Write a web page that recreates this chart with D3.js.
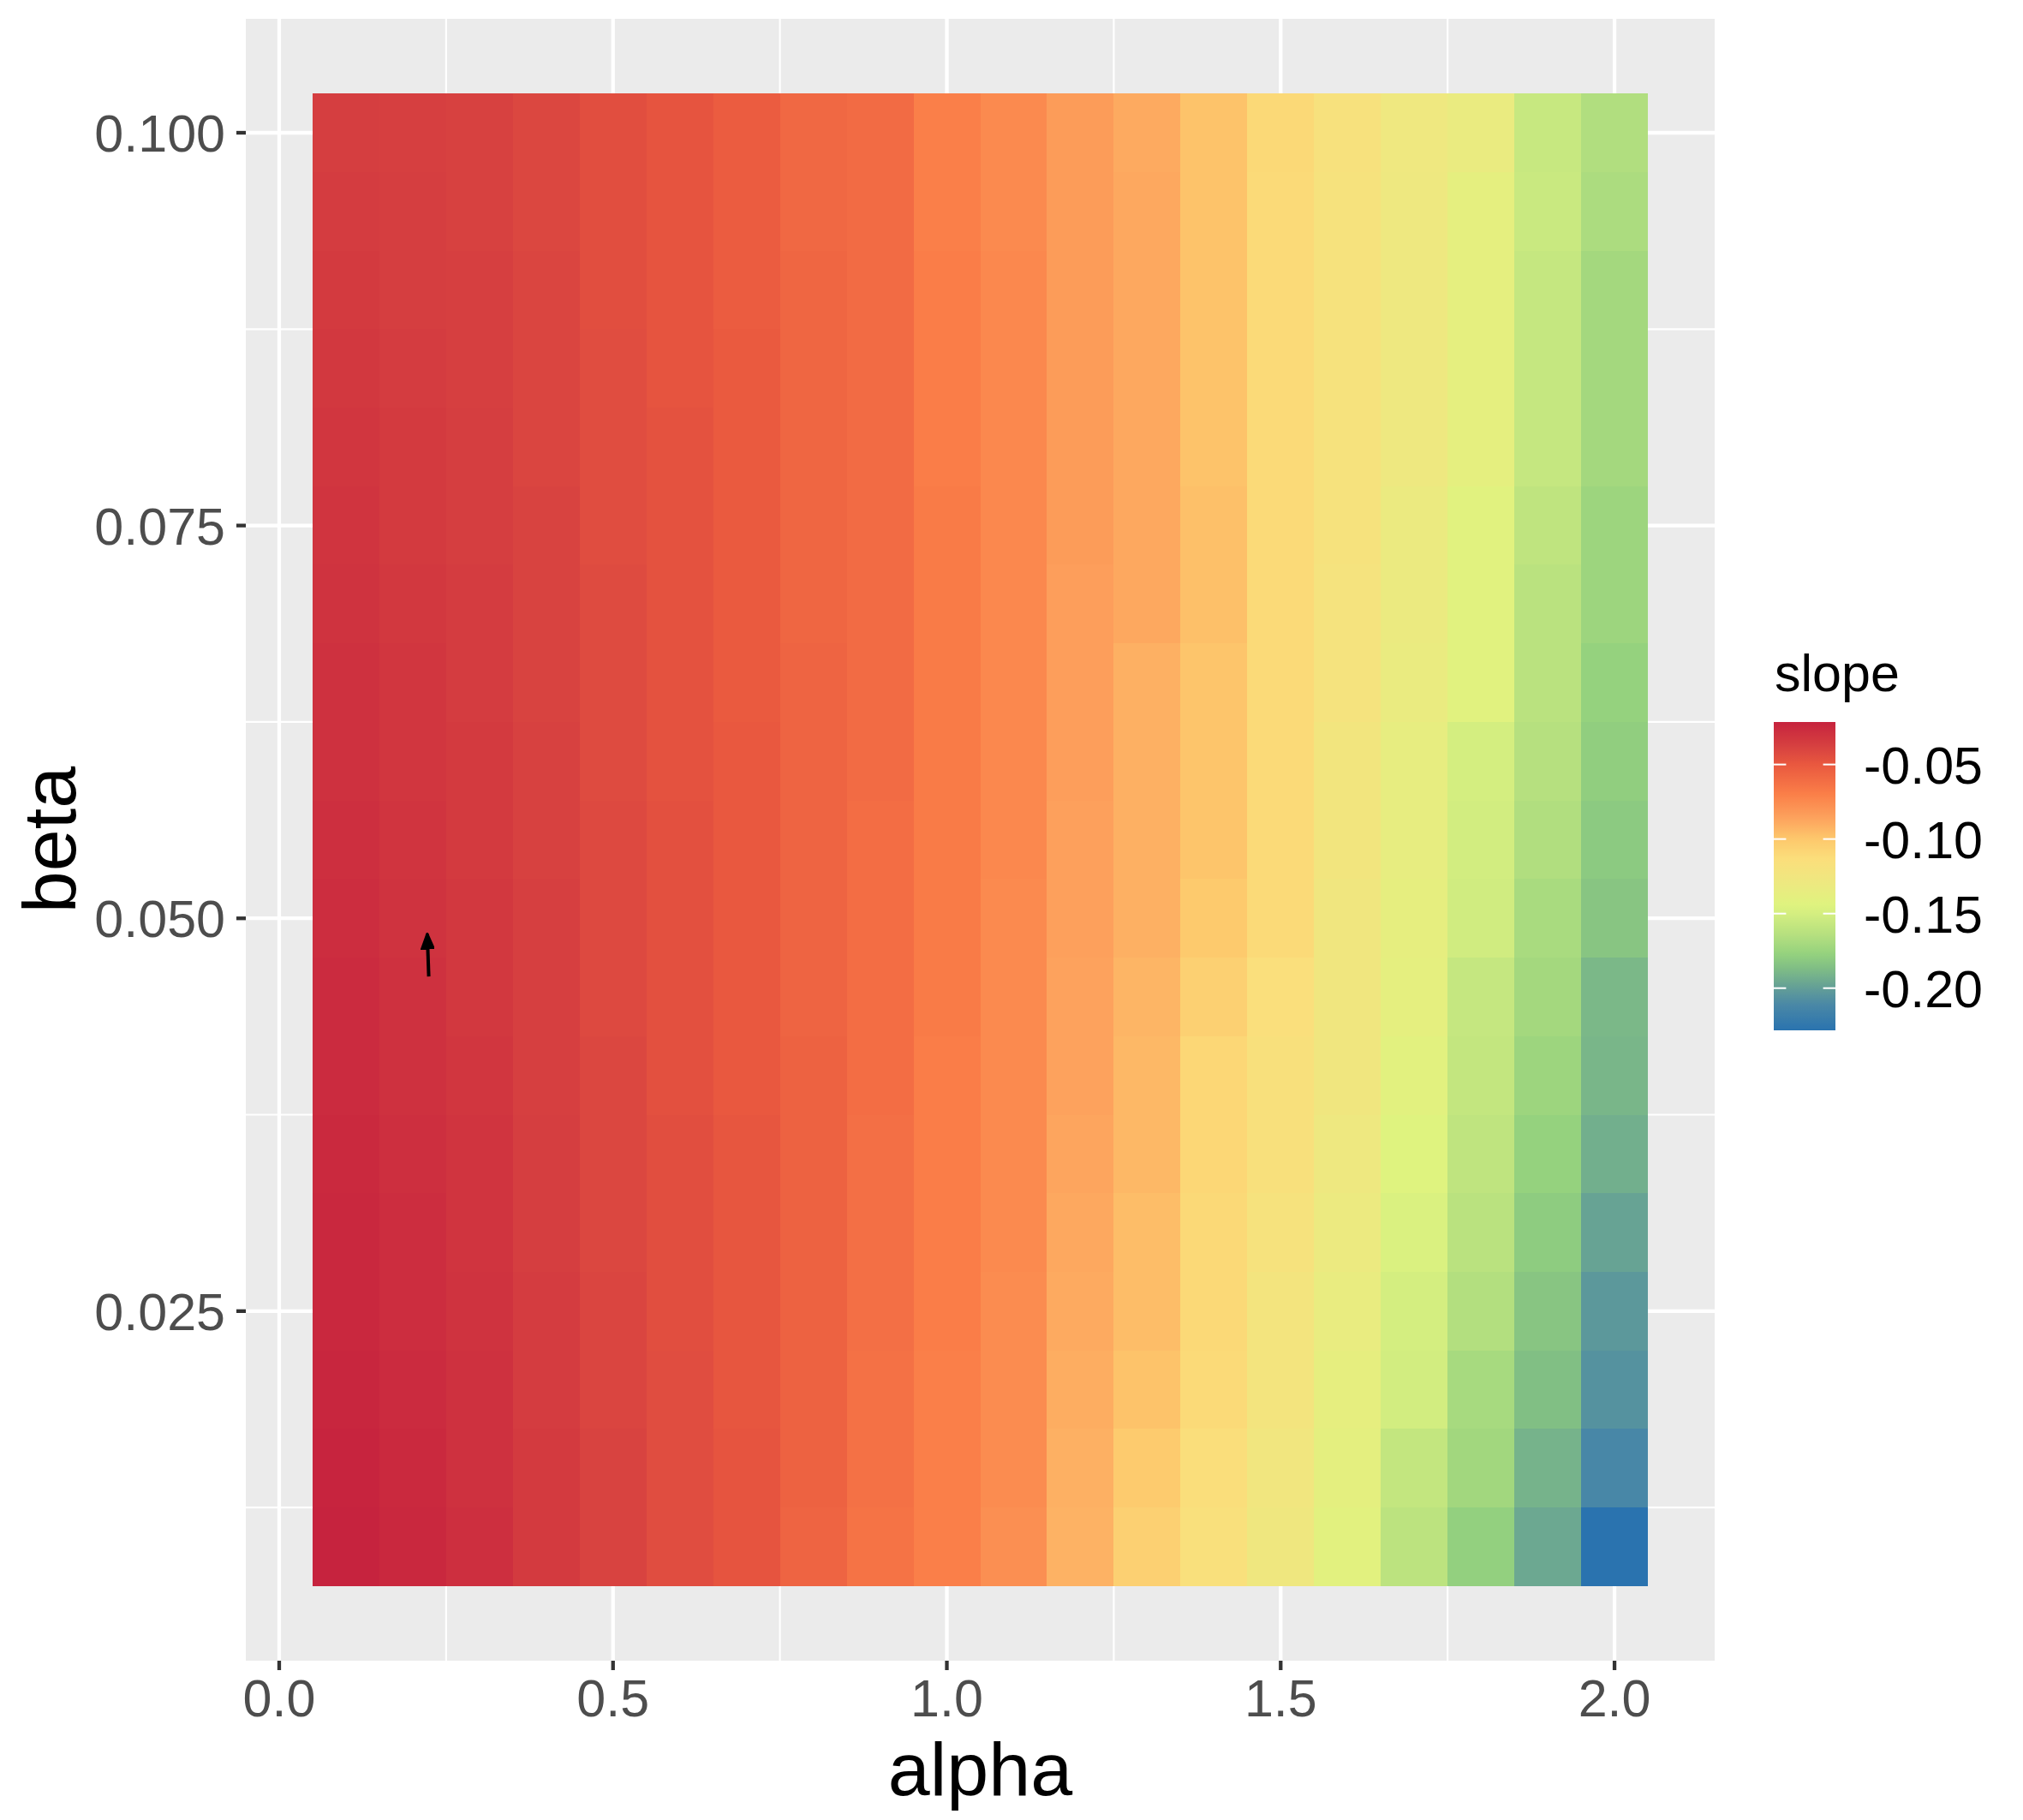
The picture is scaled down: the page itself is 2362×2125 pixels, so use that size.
<!DOCTYPE html>
<html>
<head>
<meta charset="utf-8">
<script src="https://cdn.jsdelivr.net/npm/d3@7"></script>
<style>
  html, body { margin: 0; padding: 0; background: #ffffff; }
  svg { display: block; font-family: "Liberation Sans", Arial, Helvetica, sans-serif; }
</style>
</head>
<body>
<svg id="chart" width="2362" height="2125"></svg>
<script>
// ---------------- data ----------------
const alphaValues = [0.1, 0.2, 0.3, 0.4, 0.5, 0.6, 0.7, 0.8, 0.9, 1.0,
                     1.1, 1.2, 1.3, 1.4, 1.5, 1.6, 1.7, 1.8, 1.9, 2.0];
const betaValues = [0.010, 0.015, 0.020, 0.025, 0.030, 0.035, 0.040, 0.045, 0.050, 0.055,
                    0.060, 0.065, 0.070, 0.075, 0.080, 0.085, 0.090, 0.095, 0.100];
// slope[i][j]: beta = betaValues[i], alpha = alphaValues[j]
const slope = [
  [-0.0215,-0.024,-0.028,-0.034,-0.039,-0.044,-0.048,-0.056,-0.064,-0.070,-0.077,-0.092,-0.105,-0.116,-0.127,-0.141,-0.161,-0.178,-0.196,-0.2283],
  [-0.022,-0.025,-0.029,-0.034,-0.039,-0.044,-0.048,-0.055,-0.063,-0.070,-0.076,-0.091,-0.102,-0.114,-0.125,-0.139,-0.158,-0.172,-0.191,-0.212],
  [-0.023,-0.026,-0.029,-0.035,-0.040,-0.044,-0.049,-0.055,-0.063,-0.070,-0.076,-0.090,-0.098,-0.111,-0.123,-0.137,-0.151,-0.170,-0.186,-0.206],
  [-0.024,-0.027,-0.030,-0.035,-0.040,-0.045,-0.049,-0.055,-0.062,-0.069,-0.076,-0.089,-0.096,-0.110,-0.123,-0.134,-0.150,-0.165,-0.183,-0.203],
  [-0.024,-0.027,-0.031,-0.036,-0.041,-0.045,-0.049,-0.055,-0.062,-0.069,-0.075,-0.088,-0.096,-0.110,-0.119,-0.131,-0.147,-0.162,-0.180,-0.198],
  [-0.025,-0.028,-0.031,-0.036,-0.041,-0.045,-0.049,-0.055,-0.062,-0.069,-0.075,-0.087,-0.094,-0.109,-0.117,-0.129,-0.144,-0.160,-0.177,-0.193],
  [-0.026,-0.029,-0.032,-0.037,-0.041,-0.046,-0.050,-0.055,-0.061,-0.069,-0.075,-0.086,-0.094,-0.109,-0.117,-0.126,-0.141,-0.158,-0.174,-0.190],
  [-0.026,-0.029,-0.033,-0.037,-0.042,-0.046,-0.050,-0.056,-0.061,-0.068,-0.075,-0.086,-0.093,-0.105,-0.115,-0.126,-0.138,-0.157,-0.171,-0.189],
  [-0.027,-0.030,-0.033,-0.037,-0.042,-0.046,-0.050,-0.056,-0.061,-0.068,-0.075,-0.085,-0.091,-0.101,-0.111,-0.126,-0.137,-0.152,-0.169,-0.183],
  [-0.028,-0.031,-0.034,-0.038,-0.042,-0.046,-0.050,-0.056,-0.061,-0.068,-0.074,-0.085,-0.091,-0.099,-0.111,-0.124,-0.136,-0.151,-0.166,-0.181],
  [-0.029,-0.032,-0.034,-0.038,-0.043,-0.047,-0.050,-0.056,-0.060,-0.068,-0.074,-0.084,-0.091,-0.099,-0.111,-0.124,-0.136,-0.150,-0.164,-0.179],
  [-0.029,-0.032,-0.035,-0.039,-0.043,-0.047,-0.051,-0.056,-0.060,-0.068,-0.074,-0.084,-0.091,-0.099,-0.111,-0.121,-0.133,-0.142,-0.162,-0.177],
  [-0.030,-0.033,-0.035,-0.039,-0.043,-0.047,-0.051,-0.057,-0.060,-0.068,-0.074,-0.084,-0.088,-0.097,-0.111,-0.121,-0.132,-0.142,-0.162,-0.174],
  [-0.031,-0.034,-0.036,-0.039,-0.044,-0.047,-0.051,-0.057,-0.060,-0.068,-0.074,-0.083,-0.088,-0.097,-0.111,-0.119,-0.132,-0.142,-0.160,-0.174],
  [-0.032,-0.034,-0.036,-0.040,-0.044,-0.047,-0.051,-0.057,-0.060,-0.069,-0.074,-0.083,-0.088,-0.098,-0.111,-0.119,-0.129,-0.138,-0.157,-0.171],
  [-0.033,-0.035,-0.037,-0.040,-0.044,-0.048,-0.051,-0.057,-0.060,-0.069,-0.074,-0.083,-0.088,-0.098,-0.111,-0.119,-0.129,-0.138,-0.157,-0.171],
  [-0.034,-0.036,-0.037,-0.040,-0.045,-0.048,-0.052,-0.057,-0.060,-0.069,-0.074,-0.083,-0.088,-0.098,-0.111,-0.119,-0.129,-0.138,-0.157,-0.171],
  [-0.035,-0.036,-0.038,-0.041,-0.045,-0.048,-0.052,-0.058,-0.060,-0.070,-0.075,-0.083,-0.088,-0.098,-0.111,-0.119,-0.129,-0.138,-0.155,-0.168],
  [-0.036,-0.037,-0.038,-0.041,-0.045,-0.048,-0.052,-0.058,-0.060,-0.070,-0.075,-0.083,-0.089,-0.098,-0.110,-0.118,-0.128,-0.133,-0.156,-0.166]
];
// arrow annotation (alpha, beta)
const arrowFrom = [0.2240, 0.0463];
const arrowTo   = [0.2218, 0.0490];

const xTicks = [0.0, 0.5, 1.0, 1.5, 2.0];
const xTickLabels = ["0.0", "0.5", "1.0", "1.5", "2.0"];
const xMinor = [0.25, 0.75, 1.25, 1.75];
const yTicks = [0.025, 0.050, 0.075, 0.100];
const yTickLabels = ["0.025", "0.050", "0.075", "0.100"];
const yMinor = [0.0125, 0.0375, 0.0625, 0.0875];
const legendTicks = [-0.05, -0.10, -0.15, -0.20];
const legendTickLabels = ["-0.05", "-0.10", "-0.15", "-0.20"];

// colour scale stops (value -> colour)
const colorStopValues = [-0.0215, -0.039, -0.050, -0.0695, -0.0867, -0.100, -0.1133, -0.1287,
                         -0.144, -0.150, -0.164, -0.177, -0.187, -0.200, -0.211, -0.2283];
const colorStopColors = ["#C6233E", "#D84340", "#E9583F", "#FA7E48", "#FDA45E", "#FDC86C", "#FBDE7B", "#EEE880",
                         "#DFF37F", "#D4EE80", "#B6E07F", "#95D27E", "#7FBD85", "#639E97", "#4A88A6", "#2A73AF"];

// ---------------- layout ----------------
const panel = { left: 287, top: 22, right: 2002, bottom: 1939 };
const svg = d3.select("#chart");

const tileW = 0.1, tileH = 0.005;
const xMinD = d3.min(alphaValues) - tileW / 2, xMaxD = d3.max(alphaValues) + tileW / 2;
const yMinD = d3.min(betaValues) - tileH / 2, yMaxD = d3.max(betaValues) + tileH / 2;
const xPad = (xMaxD - xMinD) * 0.05, yPad = (yMaxD - yMinD) * 0.05;

const x = d3.scaleLinear().domain([xMinD - xPad, xMaxD + xPad]).range([panel.left, panel.right]);
const y = d3.scaleLinear().domain([yMinD - yPad, yMaxD + yPad]).range([panel.bottom, panel.top]);

const color = d3.scaleLinear().domain(colorStopValues).range(colorStopColors)
  .interpolate(d3.interpolateRgb).clamp(true);

// panel background
svg.append("rect")
  .attr("x", panel.left).attr("y", panel.top)
  .attr("width", panel.right - panel.left).attr("height", panel.bottom - panel.top)
  .attr("fill", "#EBEBEB");

// grid
const grid = svg.append("g");
grid.selectAll(".xminor").data(xMinor).enter().append("line")
  .attr("x1", d => x(d)).attr("x2", d => x(d))
  .attr("y1", panel.top).attr("y2", panel.bottom)
  .attr("stroke", "#ffffff").attr("stroke-width", 2.15);
grid.selectAll(".yminor").data(yMinor).enter().append("line")
  .attr("y1", d => y(d)).attr("y2", d => y(d))
  .attr("x1", panel.left).attr("x2", panel.right)
  .attr("stroke", "#ffffff").attr("stroke-width", 2.15);
grid.selectAll(".xmajor").data(xTicks).enter().append("line")
  .attr("x1", d => x(d)).attr("x2", d => x(d))
  .attr("y1", panel.top).attr("y2", panel.bottom)
  .attr("stroke", "#ffffff").attr("stroke-width", 4.3);
grid.selectAll(".ymajor").data(yTicks).enter().append("line")
  .attr("y1", d => y(d)).attr("y2", d => y(d))
  .attr("x1", panel.left).attr("x2", panel.right)
  .attr("stroke", "#ffffff").attr("stroke-width", 4.3);

// tiles
const cells = [];
betaValues.forEach((b, i) => alphaValues.forEach((a, j) => cells.push({ a, b, v: slope[i][j] })));
svg.append("g").attr("shape-rendering", "crispEdges")
  .selectAll("rect").data(cells).enter().append("rect")
  .attr("x", d => x(d.a - tileW / 2))
  .attr("y", d => y(d.b + tileH / 2))
  .attr("width", d => x(d.a + tileW / 2) - x(d.a - tileW / 2))
  .attr("height", d => y(d.b - tileH / 2) - y(d.b + tileH / 2))
  .attr("fill", d => color(d.v));

// arrow
const defs = svg.append("defs");
defs.append("marker")
  .attr("id", "arrowhead").attr("markerUnits", "userSpaceOnUse")
  .attr("viewBox", "0 0 20 16").attr("refX", 18).attr("refY", 8)
  .attr("markerWidth", 20).attr("markerHeight", 16).attr("orient", "auto")
  .append("path").attr("d", "M0,0 L20,8 L0,16 Z").attr("fill", "#000000")
  .attr("stroke", "#000000").attr("stroke-width", 1.5).attr("stroke-linejoin", "round");
svg.append("line")
  .attr("x1", x(arrowFrom[0])).attr("y1", y(arrowFrom[1]))
  .attr("x2", x(arrowTo[0])).attr("y2", y(arrowTo[1]))
  .attr("stroke", "#000000").attr("stroke-width", 4)
  .attr("marker-end", "url(#arrowhead)");

// axes ticks
const tickCol = "#333333", labelCol = "#4D4D4D";
svg.append("g").selectAll("line").data(xTicks).enter().append("line")
  .attr("x1", d => x(d)).attr("x2", d => x(d))
  .attr("y1", panel.bottom).attr("y2", panel.bottom + 11)
  .attr("stroke", tickCol).attr("stroke-width", 4.3);
svg.append("g").selectAll("text").data(xTicks).enter().append("text")
  .attr("x", d => x(d)).attr("y", 2004)
  .attr("text-anchor", "middle").attr("font-size", 61).attr("fill", labelCol)
  .text((d, i) => xTickLabels[i]);

svg.append("g").selectAll("line").data(yTicks).enter().append("line")
  .attr("y1", d => y(d)).attr("y2", d => y(d))
  .attr("x1", panel.left - 11).attr("x2", panel.left)
  .attr("stroke", tickCol).attr("stroke-width", 4.3);
svg.append("g").selectAll("text").data(yTicks).enter().append("text")
  .attr("x", 263).attr("y", d => y(d) + 22)
  .attr("text-anchor", "end").attr("font-size", 61).attr("fill", labelCol)
  .text((d, i) => yTickLabels[i]);

// axis titles
svg.append("text")
  .attr("x", (panel.left + panel.right) / 2).attr("y", 2096)
  .attr("text-anchor", "middle").attr("font-size", 88).attr("fill", "#000000")
  .text("alpha");
svg.append("text")
  .attr("transform", `translate(88, ${(panel.top + panel.bottom) / 2}) rotate(-90)`)
  .attr("text-anchor", "middle").attr("font-size", 88).attr("fill", "#000000")
  .text("beta");

// legend
const legend = { x: 2071, top: 843, width: 72, height: 360 };
const vMax = d3.max(slope.flat()), vMin = d3.min(slope.flat());
const ly = d3.scaleLinear().domain([vMax, vMin]).range([legend.top, legend.top + legend.height]);

const grad = defs.append("linearGradient").attr("id", "legendGrad")
  .attr("x1", 0).attr("y1", 0).attr("x2", 0).attr("y2", 1);
d3.range(0, 301).forEach(k => {
  const v = vMax + (vMin - vMax) * k / 300;
  grad.append("stop").attr("offset", (k / 300 * 100) + "%").attr("stop-color", color(v));
});
svg.append("rect")
  .attr("x", legend.x).attr("y", legend.top)
  .attr("width", legend.width).attr("height", legend.height)
  .attr("fill", "url(#legendGrad)");

const lt = svg.append("g");
legendTicks.forEach(t => {
  lt.append("line").attr("x1", legend.x).attr("x2", legend.x + legend.width / 5)
    .attr("y1", ly(t)).attr("y2", ly(t)).attr("stroke", "#ffffff").attr("stroke-width", 2);
  lt.append("line").attr("x1", legend.x + legend.width * 4 / 5).attr("x2", legend.x + legend.width)
    .attr("y1", ly(t)).attr("y2", ly(t)).attr("stroke", "#ffffff").attr("stroke-width", 2);
});
svg.append("g").selectAll("text").data(legendTicks).enter().append("text")
  .attr("x", 2176).attr("y", d => ly(d) + 22)
  .attr("font-size", 61).attr("fill", "#000000")
  .text((d, i) => legendTickLabels[i]);

svg.append("text")
  .attr("x", 2072).attr("y", 807)
  .attr("font-size", 61).attr("fill", "#000000")
  .text("slope");
</script>
</body>
</html>
